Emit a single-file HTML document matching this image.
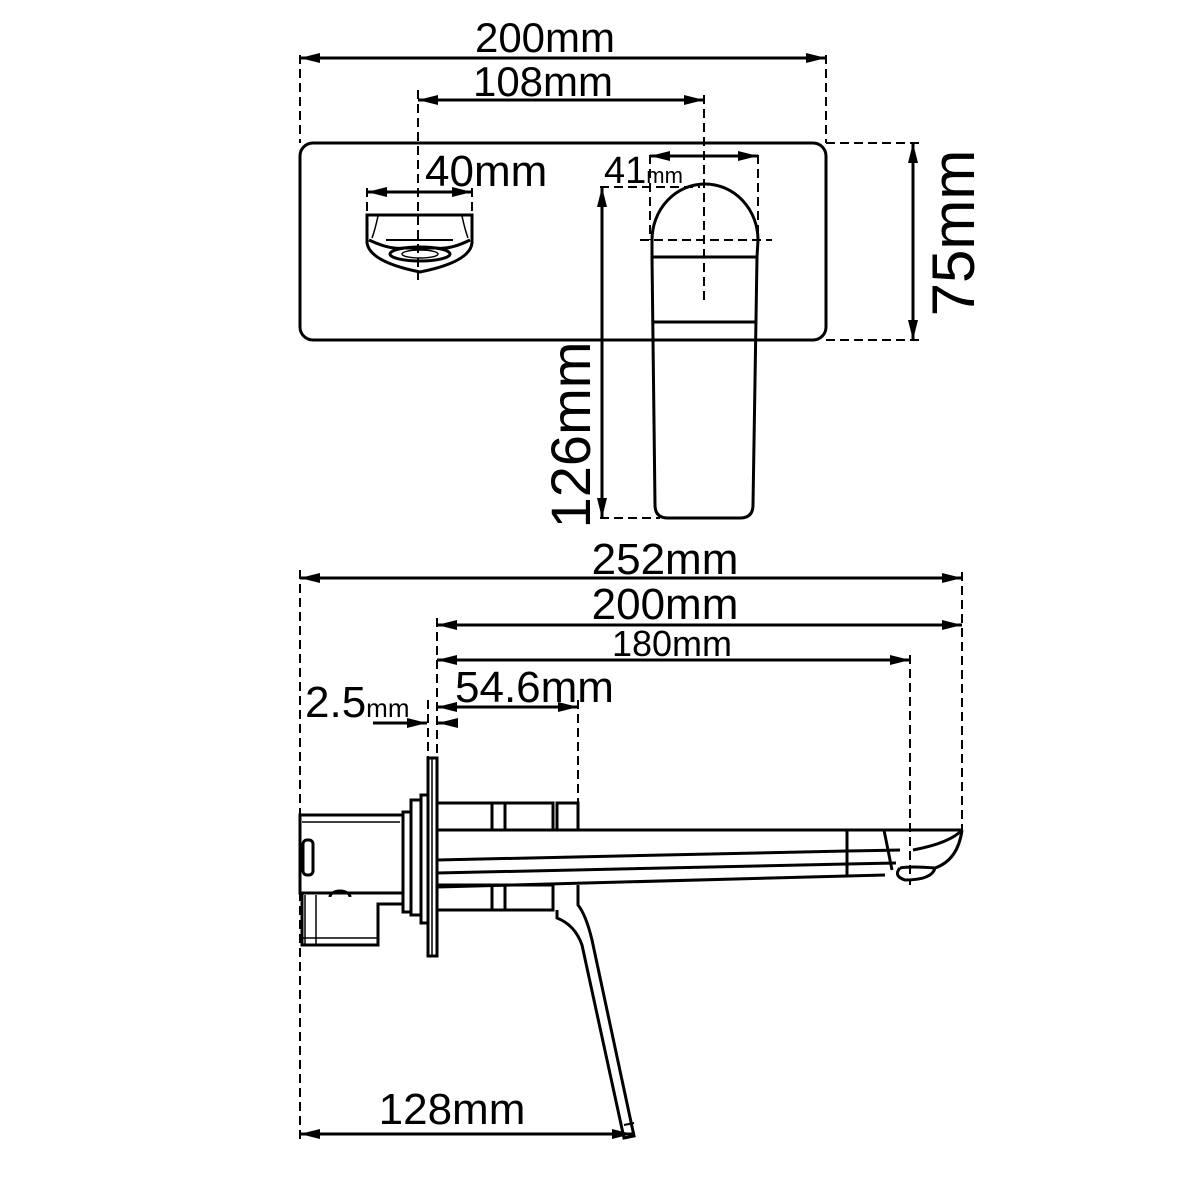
<!DOCTYPE html>
<html><head><style>
html,body{margin:0;padding:0;background:#fff;}
svg{display:block;}
text{font-family:"Liberation Sans",sans-serif;fill:#000;}
</style></head><body>
<svg width="1200" height="1200" viewBox="0 0 1200 1200" xmlns="http://www.w3.org/2000/svg">
<defs>
<marker id="a" viewBox="0 0 20 10" refX="20" refY="5" markerWidth="20" markerHeight="10" markerUnits="userSpaceOnUse" orient="auto-start-reverse"><path d="M0,0 L20,5 L0,10 Z" fill="#000"/></marker>
</defs>
<g stroke="#000" fill="none" stroke-width="3">
<g stroke-dasharray="9,5" stroke-width="2">
<line x1="300" y1="55" x2="300" y2="143"/>
<line x1="826" y1="55" x2="826" y2="143"/>
<line x1="418" y1="90" x2="418" y2="280"/>
<line x1="704" y1="95" x2="704" y2="300"/>
<line x1="826" y1="143" x2="920" y2="143"/>
<line x1="826" y1="340" x2="920" y2="340"/>
<line x1="367" y1="188" x2="367" y2="215"/>
<line x1="472" y1="188" x2="472" y2="215"/>
<line x1="650" y1="155" x2="650" y2="240"/>
<line x1="758" y1="155" x2="758" y2="240"/>
<line x1="640" y1="240" x2="772" y2="240"/>
<line x1="600" y1="187" x2="700" y2="187"/>
<line x1="600" y1="518" x2="660" y2="518"/>
</g>
<line x1="300" y1="58" x2="826" y2="58" marker-start="url(#a)" marker-end="url(#a)"/>
<line x1="418" y1="100" x2="704" y2="100" marker-start="url(#a)" marker-end="url(#a)"/>
<line x1="913" y1="143" x2="913" y2="340" marker-start="url(#a)" marker-end="url(#a)"/>
<line x1="367" y1="192" x2="472" y2="192" marker-start="url(#a)" marker-end="url(#a)"/>
<line x1="650" y1="156" x2="758" y2="156" marker-start="url(#a)" marker-end="url(#a)"/>
<line x1="602" y1="187" x2="602" y2="518" marker-start="url(#a)" marker-end="url(#a)"/>
<rect x="300" y="143" width="526" height="197" rx="13"/>
<path d="M367,215 L472,215 L472,243 Q470,262 420,272 Q370,262 367,243 Z"/>
<path d="M369,240 Q390,250 404,248 L436,248 Q450,250 470,240"/>
<ellipse cx="420" cy="254" rx="30" ry="7"/>
<ellipse cx="420" cy="254" rx="18" ry="4" stroke-width="1.5"/>
<line x1="386" y1="240" x2="453" y2="240" stroke-width="2"/>
<path d="M378,216 Q375,230 372,238 M462,216 Q465,230 468,238" stroke-width="1.5"/>
<path d="M652,240 A52,55 0 0 1 758,240 L757,257 L753,505 Q753,518 740,518 L668,518 Q655,518 655,505 L652,257 Z"/>
<line x1="652" y1="257" x2="758" y2="257"/>
<line x1="654" y1="322" x2="756" y2="322"/>
<g stroke-dasharray="9,5" stroke-width="2">
<line x1="300" y1="570" x2="300" y2="1142"/>
<line x1="962" y1="572" x2="962" y2="830"/>
<line x1="437" y1="618" x2="437" y2="758"/>
<line x1="428" y1="700" x2="428" y2="758"/>
<line x1="578" y1="700" x2="578" y2="803"/>
<line x1="910" y1="655" x2="910" y2="885"/>
</g>
<line x1="300" y1="578" x2="962" y2="578" marker-start="url(#a)" marker-end="url(#a)"/>
<line x1="437" y1="625" x2="962" y2="625" marker-start="url(#a)" marker-end="url(#a)"/>
<line x1="437" y1="660" x2="910" y2="660" marker-start="url(#a)" marker-end="url(#a)"/>
<line x1="437" y1="707" x2="578" y2="707" marker-start="url(#a)" marker-end="url(#a)"/>
<line x1="373" y1="723" x2="427" y2="723" marker-end="url(#a)"/>
<line x1="457" y1="723" x2="438" y2="723" marker-end="url(#a)"/>
<line x1="300" y1="1134" x2="632" y2="1134" marker-start="url(#a)" marker-end="url(#a)"/>
<rect x="300" y="815" width="103" height="78"/>
<line x1="302" y1="822" x2="400" y2="822" stroke-width="1.5"/>
<path d="M302,893 L302,945 L378,945 L378,904 L403,904"/>
<line x1="305" y1="895" x2="305" y2="945" stroke-width="1.5"/>
<line x1="316" y1="895" x2="316" y2="945" stroke-width="1.5"/>
<line x1="302" y1="938" x2="378" y2="938" stroke-width="1.5"/>
<path d="M330,897 A10,6 0 0 1 350,897"/>
<rect x="303" y="840" width="10" height="35" rx="4"/>
<rect x="403" y="812" width="8" height="100"/>
<rect x="411" y="800" width="10" height="115"/>
<rect x="421" y="795" width="7" height="128"/>
<rect x="428" y="758" width="9" height="198"/>
<line x1="432" y1="758" x2="432" y2="956" stroke-width="1.5"/>
<rect x="437" y="803" width="116" height="27"/>
<line x1="492" y1="803" x2="492" y2="830"/>
<line x1="505" y1="803" x2="505" y2="830"/>
<rect x="557" y="803" width="21" height="27"/>
<rect x="437" y="885" width="116" height="25"/>
<line x1="492" y1="885" x2="492" y2="910"/>
<line x1="505" y1="885" x2="505" y2="910"/>
<line x1="437" y1="830" x2="962" y2="830"/>
<line x1="437" y1="860" x2="847" y2="851"/>
<line x1="437" y1="873" x2="847" y2="864"/>
<line x1="437" y1="887" x2="847" y2="876"/>
<line x1="847" y1="830" x2="847" y2="876"/>
<line x1="847" y1="851" x2="900" y2="850"/>
<line x1="847" y1="864" x2="896" y2="863"/>
<line x1="847" y1="876" x2="885" y2="875"/>
<path d="M884,830 L892,870"/>
<path d="M913,850 Q950,843 962,830"/>
<path d="M962,830 Q958,860 935,868"/>
<path d="M900,868 Q910,866 935,868 Q932,880 905,880 Q893,876 900,868"/>
<path d="M557,910 L557,918 Q575,925 582,945 L624,1138 L634,1136 L592,940 Q586,915 578,905 L578,885"/>
<line x1="624" y1="1125" x2="634" y2="1123" stroke-width="2"/>
</g>
<text x="545" y="52" font-size="42" text-anchor="middle">200mm</text>
<text x="543" y="96" font-size="42" text-anchor="middle">108mm</text>
<text x="425" y="186" font-size="44">40mm</text>
<text x="604" y="183" font-size="38">41<tspan font-size="22">mm</tspan></text>
<text transform="translate(590,435) rotate(-90)" font-size="56" text-anchor="middle">126mm</text>
<text transform="translate(974,233) rotate(-90)" font-size="60" text-anchor="middle">75mm</text>
<text x="665" y="574" font-size="44" text-anchor="middle">252mm</text>
<text x="665" y="619" font-size="44" text-anchor="middle">200mm</text>
<text x="672" y="656" font-size="36" text-anchor="middle">180mm</text>
<text x="455" y="702" font-size="44">54.6mm</text>
<text x="305" y="717" font-size="44">2.5<tspan font-size="26">mm</tspan></text>
<text x="452" y="1124" font-size="44" text-anchor="middle">128mm</text>
</svg>
</body></html>
